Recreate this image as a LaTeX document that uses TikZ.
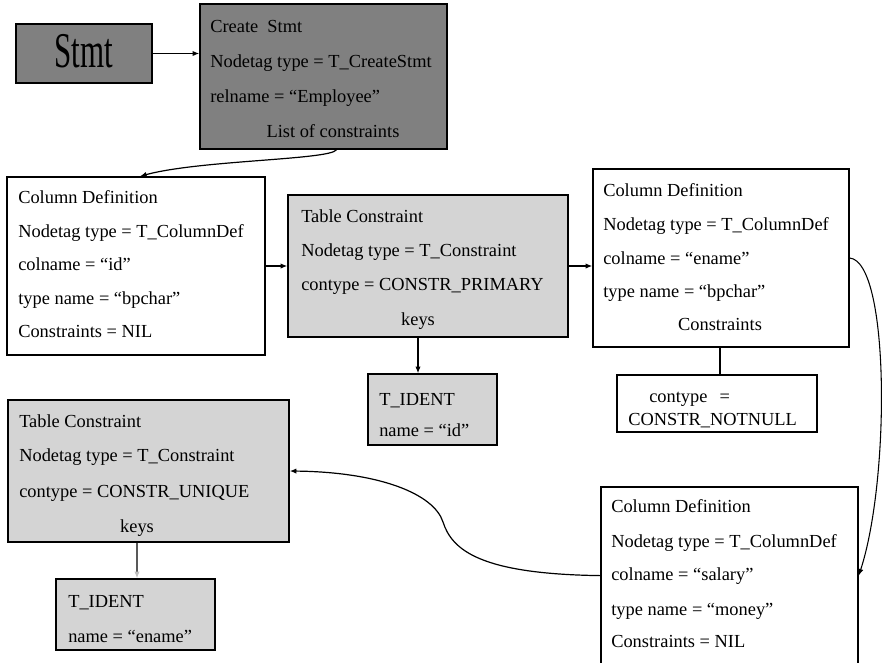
\documentclass[tikz,border=0pt]{standalone}
\usepackage{fontspec}
\setmainfont{Liberation Serif}
\usetikzlibrary{arrows.meta,fit,calc}
\definecolor{darkfill}{RGB}{128,128,128}
\definecolor{lightfill}{RGB}{212,212,212}
\begin{document}
\begin{tikzpicture}[x=0.75pt,y=-0.75pt,
  boxbase/.style={draw=black,line width=1.1pt,inner sep=0pt},
  darkbox/.style={boxbase,fill=darkfill},
  lightbox/.style={boxbase,fill=lightfill},
  whitebox/.style={boxbase,fill=white},
  txt/.style={inner sep=0pt,anchor=base west,font=\fontsize{13.8}{16}\selectfont},
  ctxt/.style={txt,anchor=base},
  arr/.style={draw=black,line width=0.9pt,-{Latex[length=5pt,width=4pt]}},
  conn/.style={draw=black,line width=0.9pt}]
\useasboundingbox (0,0) rectangle (882,662);
\clip (0,0) rectangle (882,662);
\fill[white] (0,0) rectangle (882,662);

% boxes
\node[darkbox,fit={(16,24) (152,83)}] (stmt) {};
\node[darkbox,fit={(200,4) (447,149)}] (create) {};
\node[whitebox,fit={(7,177) (265,355)}] (col1) {};
\node[lightbox,fit={(288,195) (568,337)}] (tc1) {};
\node[whitebox,fit={(593,169) (849,347)}] (col2) {};
\node[lightbox,fit={(368,374) (497,445)}] (tidn1) {};
\node[whitebox,fit={(617,375) (817,432)}] (nn) {};
\node[lightbox,fit={(8,400) (289,542)}] (tc2) {};
\node[lightbox,fit={(56,579) (215,650)}] (tidn2) {};
\node[whitebox,fit={(601,487) (858,690)}] (col3) {};

% texts
\node[inner sep=0pt,anchor=base] (stmt-l1) at (84,67) {\scalebox{0.62}[1]{\fontsize{37.5}{40}\selectfont Stmt}};

\node[txt] (create-l1) at (210,32) {Create\ \ Stmt};
\node[txt] (create-l2) at (210,67) {Nodetag type = T\_CreateStmt};
\node[txt] (create-l3) at (210,102) {relname = “Employee”};
\node[ctxt] (create-l4) at (333,137) {List of constraints};

\node[txt] (col1-l1) at (18,203) {Column Definition};
\node[txt] (col1-l2) at (18,237) {Nodetag type = T\_ColumnDef};
\node[txt] (col1-l3) at (18,270) {colname = “id”};
\node[txt] (col1-l4) at (18,304) {type name = “bpchar”};
\node[txt] (col1-l5) at (18,337) {Constraints = NIL};

\node[txt] (tc1-l1) at (301,222) {Table Constraint};
\node[txt] (tc1-l2) at (301,256) {Nodetag type = T\_Constraint};
\node[txt] (tc1-l3) at (301,290) {contype = CONSTR\_PRIMARY};
\node[ctxt] (tc1-l4) at (418,325) {keys};

\node[txt] (col2-l1) at (603,196) {Column Definition};
\node[txt] (col2-l2) at (603,230) {Nodetag type = T\_ColumnDef};
\node[txt] (col2-l3) at (603,264) {colname = “ename”};
\node[txt] (col2-l4) at (603,297) {type name = “bpchar”};
\node[ctxt] (col2-l5) at (720,330) {Constraints};

\node[txt] (tidn1-l1) at (379,405) {T\_IDENT};
\node[txt] (tidn1-l2) at (379,436) {name = “id”};

\node[txt] (nn-l1) at (649,402) {contype\hspace{9pt}=};
\node[txt] (nn-l2) at (628,425) {CONSTR\_NOTNULL};

\node[txt] (tc2-l1) at (19,427) {Table Constraint};
\node[txt] (tc2-l2) at (19,461) {Nodetag type = T\_Constraint};
\node[txt] (tc2-l3) at (19,497) {contype = CONSTR\_UNIQUE};
\node[ctxt] (tc2-l4) at (137,532) {keys};

\node[txt] (tidn2-l1) at (68,607) {T\_IDENT};
\node[txt] (tidn2-l2) at (68,642) {name = “ename”};

\node[txt] (col3-l1) at (611,512) {Column Definition};
\node[txt] (col3-l2) at (611,547) {Nodetag type = T\_ColumnDef};
\node[txt] (col3-l3) at (611,580) {colname = “salary”};
\node[txt] (col3-l4) at (611,615) {type name = “money”};
\node[txt] (col3-l5) at (611,647) {Constraints = NIL};

% connectors
\draw[arr] (stmt.east) -- (stmt.east -| create.west);
\draw[arr] ($(create.south)+(13,0)$) .. controls (330,160) and (200,160) .. ($(col1.north)+(4,0)$);
\draw[arr] (col1.east) -- (col1.east -| tc1.west);
\draw[arr] (tc1.east) -- (tc1.east -| col2.west);
\draw[arr] (tc1.south -| tc1-l4) -- (tidn1.north -| tc1-l4);
\draw[conn] (col2.south -| col2-l5) -- (nn.north -| col2-l5);
\draw[arr,line width=0.8pt] (col2.east) .. controls (890,262) and (890,480) .. (col3.east |- col3-l3);
\draw[arr] (col3.west |- col3-l3) .. controls (480,574) and (452,550) .. (443,522)
  .. controls (434,494) and (380,472) .. (tc2.east);
\draw[draw=gray!70!black,line width=0.9pt,-{Latex[length=5pt,width=4pt,color=lightgray]}] (tc2.south -| tc2-l4) -- (tidn2.north -| tc2-l4);
\end{tikzpicture}
\end{document}
